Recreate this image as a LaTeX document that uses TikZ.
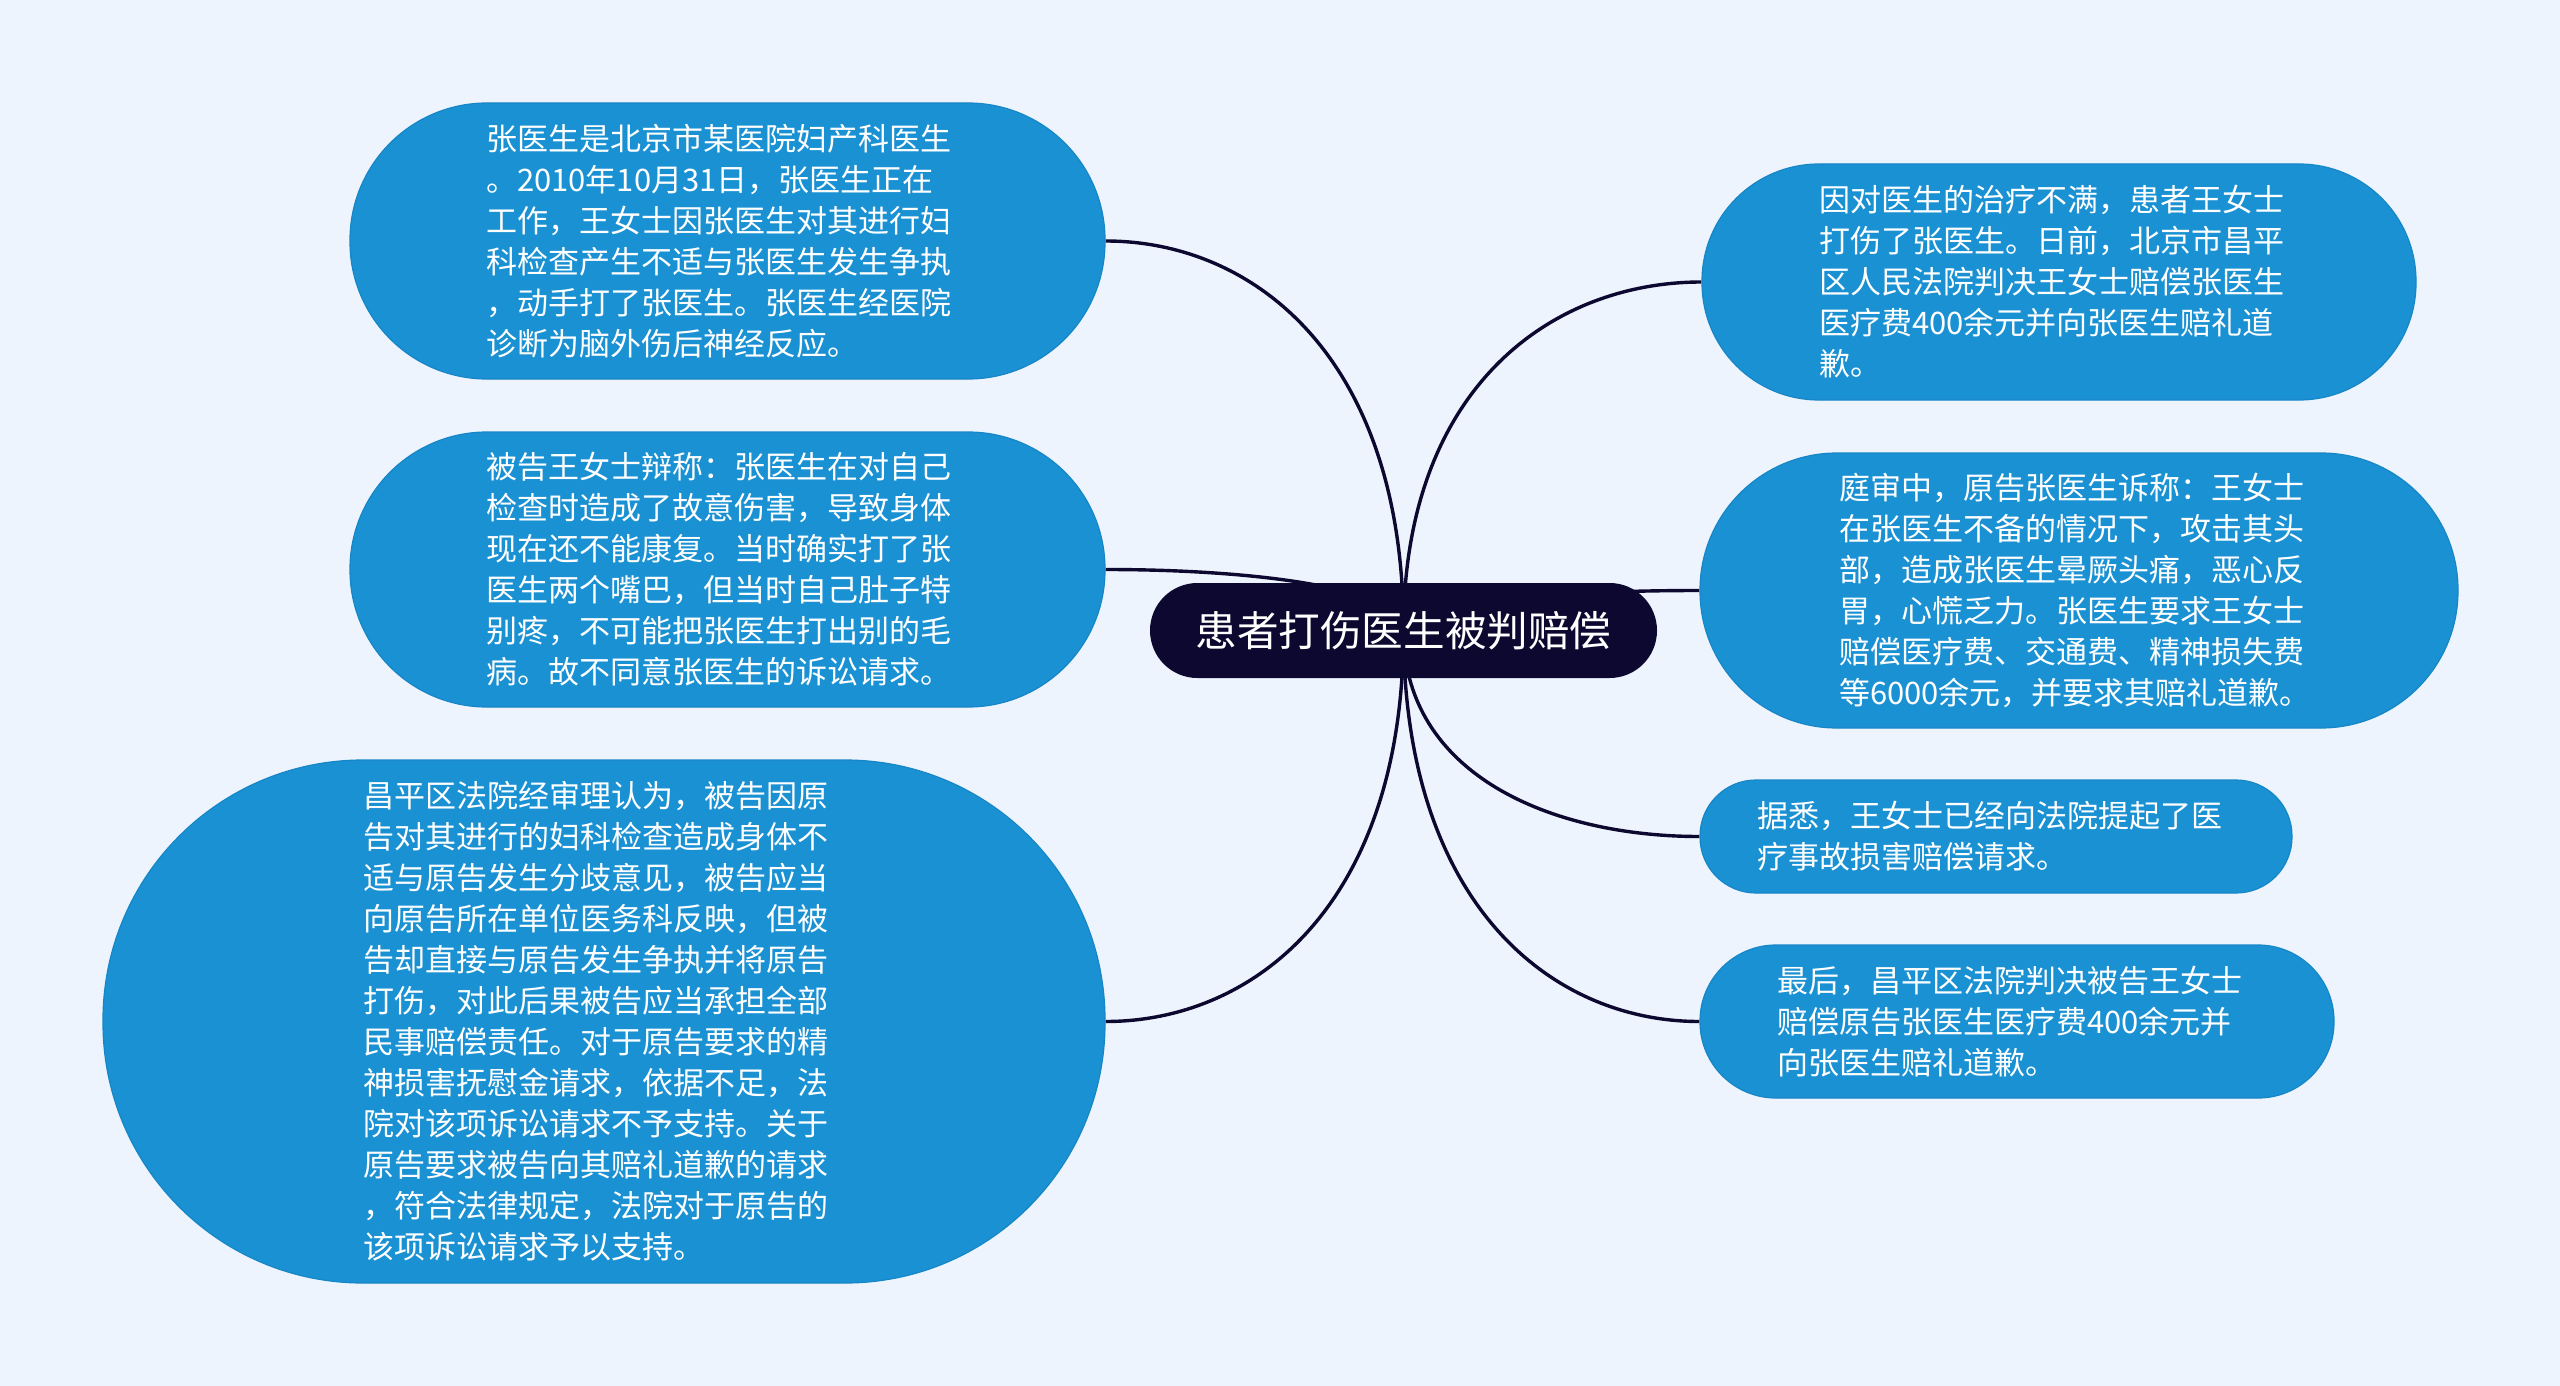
\documentclass[tikz,border=0pt]{standalone}
\usepackage{fontspec}
\setmainfont{Noto Sans CJK SC}
\usetikzlibrary{calc}
\definecolor{bgc}{HTML}{EEF4FD}
\definecolor{nodefill}{HTML}{1A91D3}
\definecolor{nodeline}{HTML}{1786C6}
\definecolor{rootc}{HTML}{0D0830}
\pgfdeclarelayer{bglayer}
\pgfdeclarelayer{edgelayer}
\pgfsetlayers{bglayer,edgelayer,main}
\tikzset{
  leaf/.style={draw=nodeline, line width=0.6pt, fill=nodefill, text=white,
    align=left, inner ysep=0pt, anchor=center,
    font=\fontsize{15.5pt}{20.5pt}\selectfont},
  rootbox/.style={fill=rootc, text=white, inner sep=0pt, anchor=center,
    minimum width=253.5pt, minimum height=47.5pt, rounded corners=23.7pt,
    font=\fontsize{20.8pt}{24pt}\selectfont},
  edge/.style={draw=rootc, line width=1.7pt}
}
\newcommand\mmconn[1]{%
  \draw[edge] (root.center) .. controls ($(root.center)!0.7!(root.center |- #1)$)
    and ($(#1)!0.5!(root.center |- #1)$) .. (#1);}
\begin{document}
\begin{tikzpicture}[x=0.5pt,y=-0.5pt]
\useasboundingbox (0,0) rectangle (2560,1386);
\begin{pgfonlayer}{bglayer}
  \fill[bgc] (0,0) rectangle (2560,1386);
\end{pgfonlayer}

\node[rootbox] (root) at (1403.5,630.5) {患者打伤医生被判赔偿};

\node[leaf, minimum height=138pt, rounded corners=68.5pt, inner xsep=68pt, text width=241.5pt]
  (L1) at (727.5,241) {张医生是北京市某医院妇产科医生\\。2010年10月31日，张医生正在\\工作，王女士因张医生对其进行妇\\科检查产生不适与张医生发生争执\\，动手打了张医生。张医生经医院\\诊断为脑外伤后神经反应。};

\node[leaf, minimum height=137.5pt, rounded corners=68.5pt, inner xsep=68pt, text width=241.5pt]
  (L2) at (727.5,569.5) {被告王女士辩称：张医生在对自己\\检查时造成了故意伤害，导致身体\\现在还不能康复。当时确实打了张\\医生两个嘴巴，但当时自己肚子特\\别疼，不可能把张医生打出别的毛\\病。故不同意张医生的诉讼请求。};

\node[leaf, minimum height=261.5pt, rounded corners=130pt, inner xsep=130pt, text width=241pt]
  (L3) at (604,1021.5) {昌平区法院经审理认为，被告因原\\告对其进行的妇科检查造成身体不\\适与原告发生分歧意见，被告应当\\向原告所在单位医务科反映，但被\\告却直接与原告发生争执并将原告\\打伤，对此后果被告应当承担全部\\民事赔偿责任。对于原告要求的精\\神损害抚慰金请求，依据不足，法\\院对该项诉讼请求不予支持。关于\\原告要求被告向其赔礼道歉的请求\\，符合法律规定，法院对于原告的\\该项诉讼请求予以支持。};

\node[leaf, minimum height=118pt, rounded corners=58.5pt, inner xsep=58.5pt, text width=240pt]
  (R1) at (2059,282) {因对医生的治疗不满，患者王女士\\打伤了张医生。日前，北京市昌平\\区人民法院判决王女士赔偿张医生\\医疗费400余元并向张医生赔礼道\\歉。};

\node[leaf, minimum height=137.5pt, rounded corners=68.5pt, inner xsep=69.5pt, text width=240pt]
  (R2) at (2079,590.5) {庭审中，原告张医生诉称：王女士\\在张医生不备的情况下，攻击其头\\部，造成张医生晕厥头痛，恶心反\\胃，心慌乏力。张医生要求王女士\\赔偿医疗费、交通费、精神损失费\\等6000余元，并要求其赔礼道歉。};

\node[leaf, minimum height=56.5pt, rounded corners=28pt, inner xsep=28.5pt, text width=239pt]
  (R3) at (1996,836.5) {据悉，王女士已经向法院提起了医\\疗事故损害赔偿请求。};

\node[leaf, minimum height=76.5pt, rounded corners=38pt, inner xsep=38.5pt, text width=240pt]
  (R4) at (2017,1021.5) {最后，昌平区法院判决被告王女士\\赔偿原告张医生医疗费400余元并\\向张医生赔礼道歉。};

\begin{pgfonlayer}{edgelayer}
  \mmconn{L1.east}
  \mmconn{L2.east}
  \mmconn{L3.east}
  \mmconn{R1.west}
  \mmconn{R2.west}
  \mmconn{R3.west}
  \mmconn{R4.west}
\end{pgfonlayer}
\end{tikzpicture}
\end{document}
